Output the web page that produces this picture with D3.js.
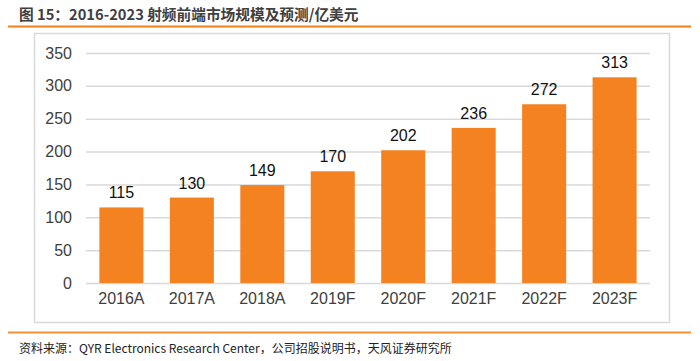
<!DOCTYPE html>
<html>
<head>
<meta charset="utf-8">
<script src="https://cdn.jsdelivr.net/npm/d3@7"></script>
<style>
	body { margin: 0; background: #fff; }
	svg { display: block; }
</style>
</head>
<body>
<svg></svg>
<script>
// categories and values
const years = ["2016A", "2017A", "2018A", "2019F", "2020F", "2021F", "2022F", "2023F"]
const marketSize = [115, 130, 149, 170, 202, 236, 272, 313]
const yTicks = [0, 50, 100, 150, 200, 250, 300, 350]

const svg = d3.select("svg")
	.attr("width", 700)
	.attr("height", 361)

// title + orange rule
svg.append("text")
	.attr("x", 19)
	.attr("y", 20)
	.style("font-family", "'Noto Sans CJK SC', 'Liberation Sans', sans-serif")
	.style("font-size", "14.7px")
	.style("font-weight", "bold")
	.style("fill", "#404040")
	.text("图 15：2016-2023 射频前端市场规模及预测/亿美元")

svg.append("line")
	.attr("x1", 8).attr("x2", 691)
	.attr("y1", 26.5).attr("y2", 26.5)
	.style("stroke", "#f57f17")
	.style("stroke-width", 2)

// chart frame
svg.append("rect")
	.attr("x", 34.5).attr("y", 33.5)
	.attr("width", 635).attr("height", 289)
	.style("fill", "#fff")
	.style("stroke", "#d9d9d9")
	.style("stroke-width", 1.5)

const x = d3.scaleBand()
	.domain(years)
	.range([86, 650])
	.paddingInner(0.375)
	.paddingOuter(0.19)

const y = d3.scaleLinear()
	.domain([0, 350])
	.range([283, 53])

// gridlines
const yAxis = svg.append("g")
	.attr("transform", "translate(86,0)")
	.call(d3.axisLeft(y).tickValues(yTicks).tickSize(-564).tickPadding(14))

yAxis.select(".domain").remove()
yAxis.selectAll(".tick line")
	.style("stroke", "#d9d9d9")
	.style("stroke-width", 1.5)
yAxis.selectAll(".tick text")
	.style("font-family", "'Liberation Sans', Arial, sans-serif")
	.style("font-size", "16px")
	.style("fill", "#404040")

// bars
svg.append("g")
	.selectAll("rect")
	.data(marketSize)
	.enter()
	.append("rect")
	.attr("x", (d, i) => x(years[i]))
	.attr("y", d => y(d))
	.attr("width", x.bandwidth())
	.attr("height", d => y(0) - y(d))
	.style("fill", "#f58220")

// value labels
svg.append("g")
	.selectAll("text")
	.data(marketSize)
	.enter()
	.append("text")
	.attr("x", (d, i) => x(years[i]) + x.bandwidth() / 2)
	.attr("y", d => y(d) - 9)
	.attr("text-anchor", "middle")
	.style("font-family", "'Liberation Sans', Arial, sans-serif")
	.style("font-size", "16px")
	.style("fill", "#111")
	.text(d => d)

// category axis
const xAxis = svg.append("g")
	.attr("transform", "translate(0,283)")
	.call(d3.axisBottom(x).tickSize(0).tickPadding(10))

xAxis.select(".domain").remove()
xAxis.selectAll(".tick text")
	.style("font-family", "'Liberation Sans', Arial, sans-serif")
	.style("font-size", "16px")
	.style("fill", "#404040")

// bottom rule + source
svg.append("line")
	.attr("x1", 8).attr("x2", 691)
	.attr("y1", 332.5).attr("y2", 332.5)
	.style("stroke", "#f0913a")
	.style("stroke-width", 2)

svg.append("text")
	.attr("x", 19)
	.attr("y", 353)
	.style("font-family", "'Noto Sans CJK SC', 'Liberation Sans Narrow', sans-serif")
	.style("font-size", "12px")
	.style("fill", "#222")
	.text("资料来源：QYR Electronics Research Center，公司招股说明书，天风证券研究所")
</script>
</body>
</html>
